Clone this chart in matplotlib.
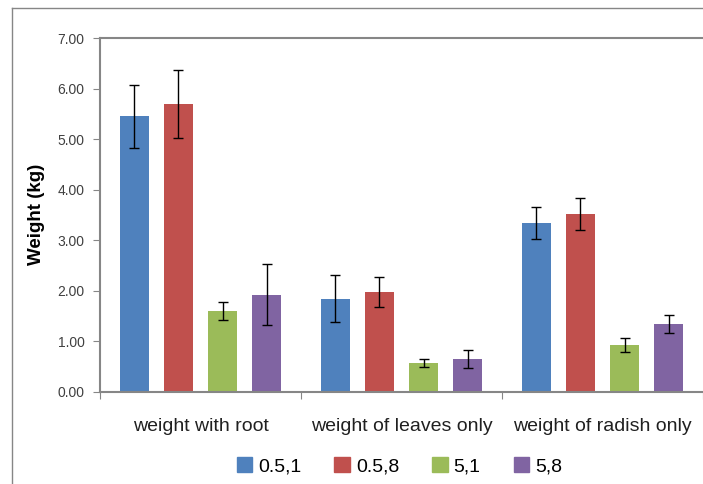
import numpy as np
import matplotlib
matplotlib.use("Agg")
from matplotlib import pyplot as plt
from matplotlib.lines import Line2D

plt.rcParams['font.family'] = ['Liberation Sans Narrow', 'Liberation Sans', 'DejaVu Sans']

categories = ["weight with root", "weight of leaves only", "weight of radish only"]
series_names = ["0.5,1", "0.5,8", "5,1", "5,8"]
values = {
    "0.5,1": [5.45, 1.84, 3.34],
    "0.5,8": [5.70, 1.97, 3.52],
    "5,1": [1.59, 0.56, 0.93],
    "5,8": [1.92, 0.65, 1.34],
}
errors = {
    "0.5,1": [0.62, 0.47, 0.31],
    "0.5,8": [0.67, 0.30, 0.32],
    "5,1": [0.18, 0.08, 0.14],
    "5,8": [0.60, 0.18, 0.18],
}
colors = ["#4F81BD", "#C0504D", "#9BBB59", "#8064A2"]

fig = plt.figure(figsize=(7.03, 4.84), dpi=100)
ax = fig.add_axes([100 / 703, 92.3 / 484, 603 / 703, 353.7 / 484])

x = np.arange(len(categories))
width = 0.145
step = 0.219
for i, name in enumerate(series_names):
    pos = x + (i - 1.5) * step
    ax.bar(pos, values[name], width, color=colors[i], label=name, zorder=2)
    ax.errorbar(pos, values[name], yerr=errors[name], fmt='none', ecolor='black',
                elinewidth=1, capsize=3.5, capthick=1, zorder=3)

ax.set_xlim(-0.5, 2.5)
ax.set_ylim(0, 7)
ax.set_yticks(np.arange(0, 7.01, 1))
ax.set_yticklabels([f"{v:.2f}" for v in np.arange(0, 7.01, 1)], fontsize=10, color='#404040')
ax.set_xticks([-0.5, 0.5, 1.5, 2.5], minor=False)
ax.set_xticklabels([])
ax.set_xticks(x, minor=True)
ax.set_xticklabels(categories, minor=True, fontsize=14, color='#202020')
ax.tick_params(axis='x', which='minor', length=0, pad=19)
ax.tick_params(axis='x', which='major', length=5, color='#868686', direction='out')
ax.tick_params(axis='y', length=5, color='#868686', direction='out', pad=6)

for side in ['left', 'top', 'bottom']:
    ax.spines[side].set_color('#868686')
    ax.spines[side].set_linewidth(1.5)
ax.spines['right'].set_visible(False)

ax.set_ylabel("Weight (kg)", fontsize=13.5, fontweight='bold', family=['Liberation Sans', 'DejaVu Sans'], labelpad=9)

handles = [plt.Rectangle((0, 0), 1, 1, color=c) for c in colors]
fig.legend(handles, series_names, loc='center', bbox_to_anchor=(0.568, 0.037), ncol=4,
           frameon=False, fontsize=14, handlelength=0.8, handleheight=0.8,
           handletextpad=0.3, columnspacing=1.7)

# outer chart border
fig.add_artist(Line2D([12 / 703, 1.0], [1 - 8 / 484, 1 - 8 / 484], transform=fig.transFigure,
                      color='#868686', lw=1))
fig.add_artist(Line2D([12 / 703, 12 / 703], [0, 1 - 8 / 484], transform=fig.transFigure,
                      color='#868686', lw=1))

fig.savefig("out.png", dpi=100)
